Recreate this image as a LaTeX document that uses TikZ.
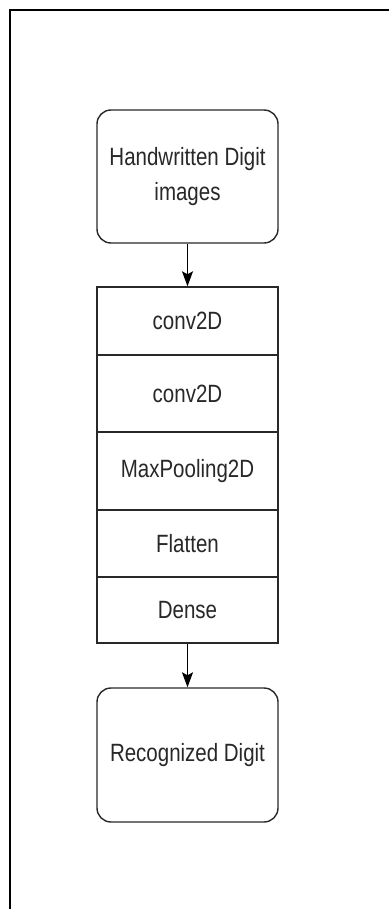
\documentclass[tikz,border=0pt]{standalone}
\usepackage{fontspec}
\setmainfont[FakeStretch=0.82]{Liberation Sans}
\usetikzlibrary{arrows.meta}
\definecolor{txt}{RGB}{40,40,40}
\definecolor{ln}{RGB}{40,40,40}
\tikzset{
  lbl/.style={font=\fontsize{25}{35}\selectfont, text=txt, align=center, inner sep=0pt},
  term/.style={lbl, draw=ln, line width=1.4pt, rounded corners=14pt, minimum width=181pt},
  layer/.style={lbl, draw=ln, line width=1.4pt, minimum width=181pt},
  flow/.style={draw=black, line width=1.3pt, -{Stealth[length=15pt,width=11pt,inset=3pt]}}
}
\begin{document}
\begin{tikzpicture}[x=1pt,y=-1pt]
\useasboundingbox (0,0) rectangle (389,909);
\fill[white] (0,0) rectangle (389,909);
\draw[line width=2.2pt, black] (389,10) -- (10,10) -- (10,909);
\node[term, minimum height=133pt] (inp) at (187.5,176.5) {Handwritten Digit\\images};
\node[layer, minimum height=68pt] (c1) at (187.5,321) {conv2D};
\node[layer, minimum height=77pt] (c2) at (187.5,393.5) {conv2D};
\node[layer, minimum height=78pt] (mp) at (187.5,471) {MaxPooling2D};
\node[layer, minimum height=67pt] (fl) at (187.5,543.5) {Flatten};
\node[layer, minimum height=66pt] (de) at (187.5,610) {Dense};
\node[term, minimum height=134pt] (out) at (187.5,755) {Recognized Digit};
\draw[flow] (inp) -- (c1);
\draw[flow] (de) -- (out);
\end{tikzpicture}
\end{document}
